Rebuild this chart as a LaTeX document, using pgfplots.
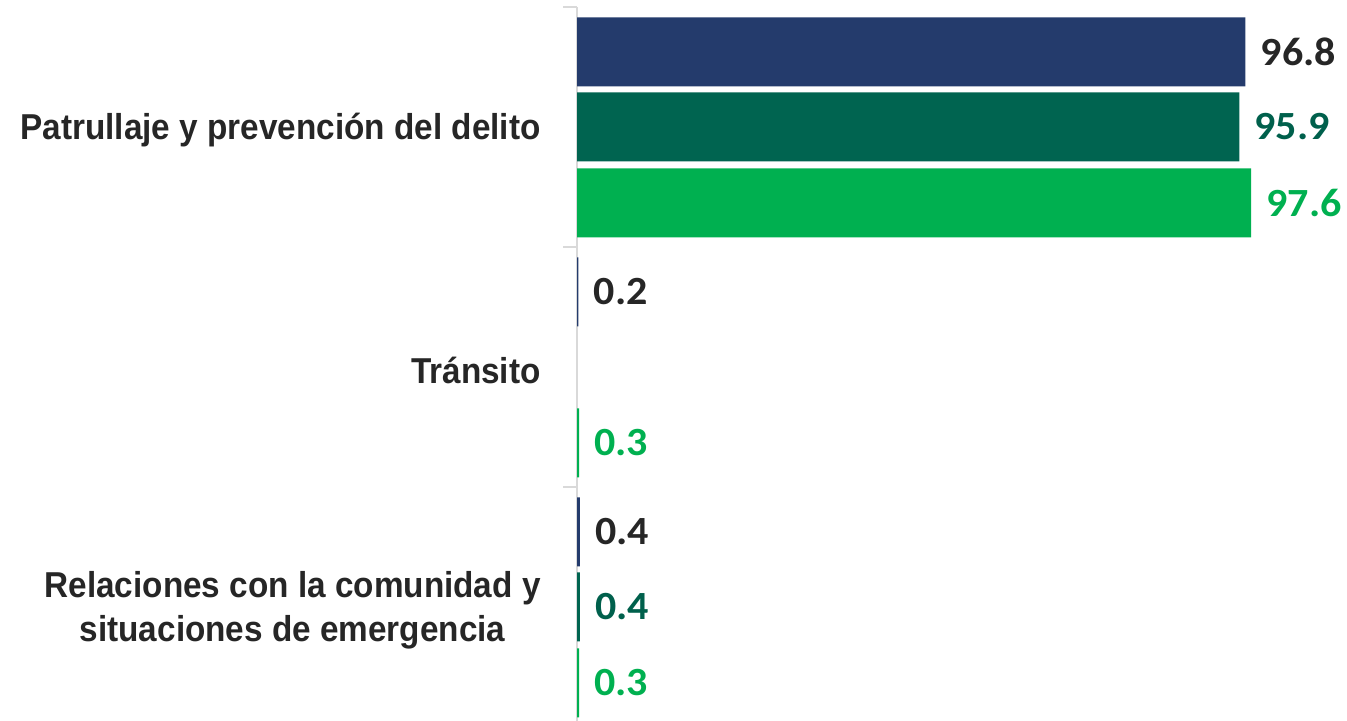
\documentclass[border=0pt]{standalone}
\usepackage{pgfplots}
\pgfplotsset{compat=1.18}
\usepackage{fontspec}
\setmainfont{Liberation Sans}
\newfontfamily\catfont{Liberation Sans}[FakeStretch=0.925]
\newfontfamily\numfont{Carlito}[FakeStretch=1.05]
\definecolor{navy}{HTML}{243B6C}
\definecolor{dgreen}{HTML}{006450}
\definecolor{lgreen}{HTML}{00B050}
\definecolor{lbldark}{HTML}{262626}
\definecolor{lblgreen}{HTML}{00604C}
\definecolor{axgray}{HTML}{D9D9D9}
\begin{document}
\begin{tikzpicture}
\useasboundingbox (0,0) rectangle (673.5pt,360.5pt);
\begin{axis}[
  at={(288.5pt,-3pt)}, anchor=south west,
  scale only axis,
  width=385pt, height=360pt,
  xbar, bar width=34.5pt,
  xmin=0, xmax=111.5,
  ymin=-0.5, ymax=2.5,
  axis x line=none,
  axis y line*=left,
  axis line style={axgray, line width=1pt},
  ytick={0,1,2},
  yticklabels={{Relaciones con la comunidad y\\situaciones de emergencia},{Tránsito},{Patrullaje y prevención del delito}},
  major tick length=0pt,
  minor ytick={-0.5,0.5,1.5,2.5},
  minor tick length=7pt,
  tick align=outside,
  minor tick style={axgray, line width=1pt},
  yticklabel style={anchor=east, align=center, inner sep=0pt, xshift=-18pt, yshift=-1.5pt, font=\catfont\bfseries\fontsize{18pt}{22pt}\selectfont, text=lbldark},
  nodes near coords,
  nodes near coords style={anchor=west, inner sep=0pt, xshift=7.5pt, font=\numfont\bfseries\fontsize{20pt}{22pt}\selectfont, /pgf/number format/fixed, /pgf/number format/precision=1, /pgf/number format/fixed zerofill, /pgf/number format/assume math mode=true},
  clip=false,
]
\addplot[fill=navy, draw=none, bar shift=37.5pt, nodes near coords style={text=lbldark}] coordinates {(96.8,2) (0.2,1) (0.4,0)};
\addplot[fill=dgreen, draw=none, bar shift=0pt, nodes near coords style={text=lblgreen}] coordinates {(95.9,2) (0.4,0)};
\addplot[fill=lgreen, draw=none, bar shift=-38pt, nodes near coords style={text=lgreen}] coordinates {(97.6,2) (0.3,1) (0.3,0)};
\end{axis}
\end{tikzpicture}
\end{document}
